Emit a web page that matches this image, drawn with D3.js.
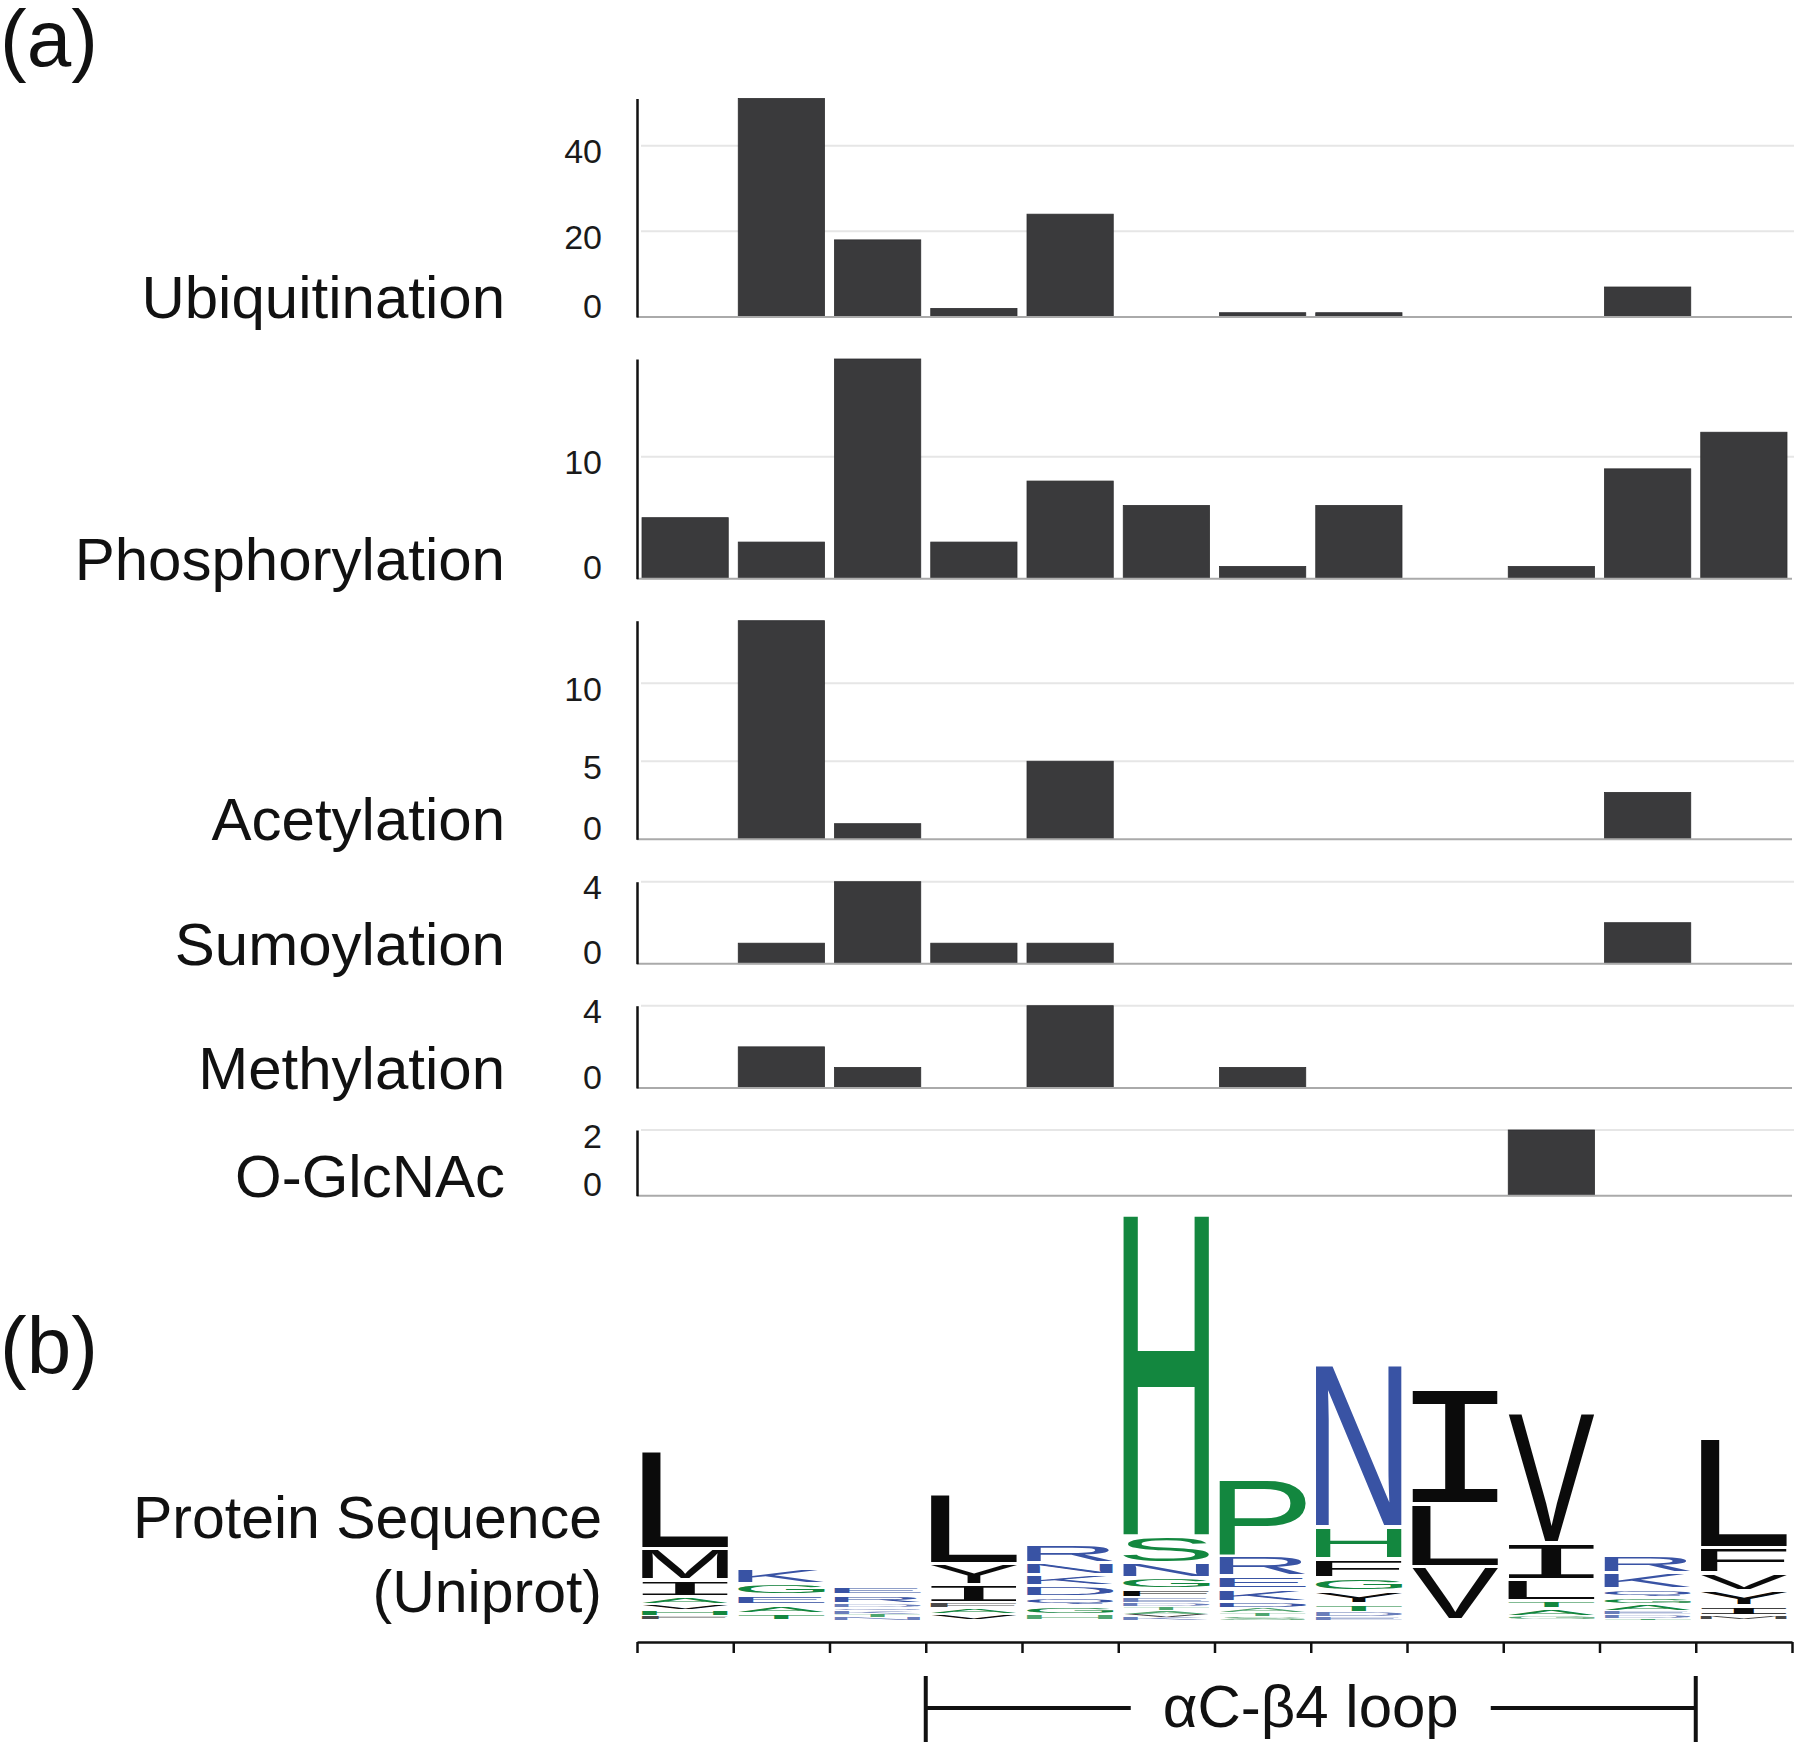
<!DOCTYPE html>
<html>
<head>
<meta charset="utf-8">
<script src="https://cdn.jsdelivr.net/npm/d3@7"></script>
<style>
  html, body { margin: 0; padding: 0; background: #ffffff; }
  svg { display: block; }
</style>
</head>
<body>
<svg id="chart" width="1800" height="1748"></svg>
<script>
// ---------------- DATA ----------------
const positions = [1, 2, 3, 4, 5, 6, 7, 8, 9, 10, 11, 12];

const ptmNames = ["Ubiquitination", "Phosphorylation", "Acetylation", "Sumoylation", "Methylation", "O-GlcNAc"];
const ubiquitination  = [0, 51, 18, 2, 24, 0, 1, 1, 0, 0, 7, 0];
const phosphorylation = [5, 3, 18, 3, 8, 6, 1, 6, 0, 1, 9, 12];
const acetylation     = [0, 14, 1, 0, 5, 0, 0, 0, 0, 0, 3, 0];
const sumoylation     = [0, 1, 4, 1, 1, 0, 0, 0, 0, 0, 2, 0];
const methylation     = [0, 2, 1, 0, 4, 0, 1, 0, 0, 0, 0, 0];
const oGlcNAc         = [0, 0, 0, 0, 0, 0, 0, 0, 0, 2, 0, 0];

const ptmMax   = [51, 18, 14, 4, 4, 2];
const ptmTicks = [[0, 20, 40], [0, 10], [0, 5, 10], [0, 4], [0, 4], [0, 2]];

// Sequence logo: per position, letters from top of stack to bottom, with heights (bits)
const logoColumns = [
  [["L", .98], ["M", .31], ["I", .17], ["A", .07], ["V", .06], ["H", .06], ["F", .04]],
  [["K", .15], ["G", .11], ["E", .10], ["A", .09], ["T", .06]],
  [["E", .09], ["R", .09], ["D", .04], ["Q", .03], ["K", .03], ["T", .03], ["N", .03]],
  [["L", .70], ["Y", .21], ["I", .18], ["F", .05], ["A", .06], ["V", .06]],
  [["R", .19], ["N", .12], ["K", .11], ["D", .11], ["Q", .09], ["G", .09], ["H", .05]],
  [["H", 3.22], ["S", .27], ["N", .15], ["G", .11], ["F", .09], ["E", .05], ["D", .04], ["T", .04], ["A", .03], ["V", .03], ["K", .03]],
  [["P", .76], ["R", .20], ["E", .13], ["K", .13], ["D", .06], ["A", .05], ["T", .04], ["S", .03]],
  [["N", 1.62], ["H", .32], ["F", .19], ["G", .13], ["Y", .13], ["T", .08], ["D", .05], ["E", .03]],
  [["I", 1.16], ["L", .63], ["V", .53]],
  [["V", 1.31], ["I", .37], ["L", .21], ["T", .07], ["A", .08], ["G", .04]],
  [["R", .18], ["K", .16], ["Q", .09], ["G", .06], ["A", .07], ["E", .04], ["D", .03], ["T", .02]],
  [["L", 1.10], ["F", .25], ["V", .18], ["Y", .15], ["I", .10], ["M", .04]]
];
const logoMaxBits = 4.2;

// residue colour groups (hydrophobicity scheme)
const residueGroups = ["hydrophilic", "neutral", "hydrophobic"];
const groupMembers  = ["RKDENQ", "SGHTAP", "YVMCLFIW"];

const loopLabel = "\u03b1C-\u03b24 loop";
const loopFirstIndex = 3;   // first position index in loop
const loopLastIndex = 10;   // last position index in loop

// ---------------- LAYOUT / STYLE ----------------
const FONT = '"Liberation Sans", Arial, Helvetica, sans-serif';
const MONO = '"Liberation Mono", "DejaVu Sans Mono", monospace';
const plotLeft = 637, plotRight = 1792;
const panelLayout = [
  { top: 98.5,   base: 317 },
  { top: 359,    base: 578.7 },
  { top: 620.7,  base: 839.3 },
  { top: 881.7,  base: 963.7 },
  { top: 1005.7, base: 1088 },
  { top: 1130,   base: 1195.7 }
];

const svg = d3.select("#chart");

const x = d3.scaleBand()
  .domain(positions)
  .range([plotLeft, plotRight])
  .paddingInner(0.104)
  .paddingOuter(0.052);

const ptmSeries = [ubiquitination, phosphorylation, acetylation, sumoylation, methylation, oGlcNAc];

// panel letters
svg.append("text").attr("x", 0).attr("y", 66).attr("font-size", 80)
  .attr("font-family", FONT).attr("fill", "#111").text("(a)");
svg.append("text").attr("x", 0).attr("y", 1373).attr("font-size", 80)
  .attr("font-family", FONT).attr("fill", "#111").text("(b)");

// ---------------- BAR PANELS ----------------
ptmNames.forEach((name, i) => {
  const { top, base } = panelLayout[i];
  const y = d3.scaleLinear().domain([0, ptmMax[i]]).range([base, top]);
  const g = svg.append("g");

  g.selectAll("line.grid")
    .data(ptmTicks[i].filter(t => t > 0))
    .join("line")
    .attr("class", "grid")
    .attr("x1", plotLeft + 4).attr("x2", plotRight + 2)
    .attr("y1", d => y(d)).attr("y2", d => y(d))
    .attr("stroke", "#e6e6e6").attr("stroke-width", 2);

  g.selectAll("rect")
    .data(positions.map((p, j) => ({ p, v: ptmSeries[i][j] })).filter(d => d.v > 0))
    .join("rect")
    .attr("x", d => x(d.p))
    .attr("width", x.bandwidth())
    .attr("y", d => y(d.v))
    .attr("height", d => y(0) - y(d.v))
    .attr("fill", "#3a3a3c")
    .attr("stroke", "#2e2e30").attr("stroke-width", 0.8);

  g.append("line")
    .attr("x1", plotLeft).attr("x2", plotRight)
    .attr("y1", y(0)).attr("y2", y(0))
    .attr("stroke", "#aaaaaa").attr("stroke-width", 2);

  const ax = g.append("g")
    .attr("transform", `translate(${plotLeft},0)`)
    .call(d3.axisLeft(y).tickValues(ptmTicks[i]).tickSize(0).tickSizeOuter(0)
      .tickPadding(35).tickFormat(d3.format("d")));
  ax.select(".domain").attr("stroke", "#111").attr("stroke-width", 2.5);
  ax.selectAll(".tick text")
    .attr("dy", null)
    .attr("y", d => d === 0 ? 0 : 17)
    .attr("font-size", 34)
    .attr("font-family", FONT)
    .attr("fill", "#1a1a1a");

  g.append("text")
    .attr("x", 505).attr("y", base + 1)
    .attr("text-anchor", "end")
    .attr("font-size", 60)
    .attr("font-family", FONT)
    .attr("fill", "#111")
    .text(name);
});

// ---------------- SEQUENCE LOGO ----------------
const colorScale = d3.scaleOrdinal().domain(residueGroups).range(["#3953a4", "#13873f", "#0b0b0b"]);
function residueColor(letter) {
  const gi = groupMembers.findIndex(s => s.includes(letter));
  return colorScale(residueGroups[gi]);
}

const yLogo = d3.scaleLinear().domain([0, logoMaxBits]).range([1620, 1200]);

const canvas = document.createElement("canvas");
const ctx = canvas.getContext("2d");
const REF = 200;
const inkCache = {};
function ink(letter, fam) {
  const key = letter + fam;
  if (inkCache[key]) return inkCache[key];
  ctx.font = `${REF}px ${fam}`;
  const m = ctx.measureText(letter);
  const r = { l: m.actualBoundingBoxLeft, r: m.actualBoundingBoxRight,
              a: m.actualBoundingBoxAscent, d: m.actualBoundingBoxDescent };
  inkCache[key] = r;
  return r;
}

const logoG = svg.append("g");
logoColumns.forEach((col, c) => {
  const bx = x(positions[c]);
  const bw = x.bandwidth();
  let cum = 0;
  col.slice().reverse().forEach(([letter, h]) => {
    const yb = yLogo(cum), yt = yLogo(cum + h);
    cum += h;
    const sh = yb - yt;
    const pad = sh > 8 ? 1.8 : sh * 0.15;
    const fam = letter === "I" ? MONO : FONT;
    const m = ink(letter, fam);
    const sx = bw / (m.l + m.r);
    const sy = (sh - 2 * pad) / (m.a + m.d);
    const tx = bx + sx * m.l;
    const ty = yt + pad + sy * m.a;
    logoG.append("text")
      .attr("transform", `translate(${tx},${ty}) scale(${sx},${sy})`)
      .attr("font-size", REF)
      .attr("font-family", fam)
      .attr("fill", residueColor(letter))
      .attr("fill-opacity", sh < 6 ? 0.75 : 1)
      .text(letter);
  });
});

// logo x axis with ticks at position boundaries
const xEdge = d3.scaleLinear().domain([0, positions.length]).range([plotLeft, plotRight]);
const axB = svg.append("g")
  .attr("transform", "translate(0,1642)")
  .call(d3.axisBottom(xEdge).tickValues(d3.range(positions.length + 1))
    .tickSize(11).tickSizeOuter(0).tickFormat(""));
axB.selectAll("line, path").attr("stroke", "#111").attr("stroke-width", 2.5);

svg.append("text")
  .attr("x", 602).attr("y", 1538).attr("text-anchor", "end")
  .attr("font-size", 59).attr("font-family", FONT).attr("fill", "#111")
  .text("Protein Sequence");
svg.append("text")
  .attr("x", 602).attr("y", 1612).attr("text-anchor", "end")
  .attr("font-size", 59).attr("font-family", FONT).attr("fill", "#111")
  .text("(Uniprot)");

// loop bracket
const xa = xEdge(loopFirstIndex), xb = xEdge(loopLastIndex + 1);
const by = 1708;
const brG = svg.append("g").attr("stroke", "#111").attr("stroke-width", 4);
const lbl = svg.append("text")
  .attr("x", (xa + xb) / 2).attr("y", 1727)
  .attr("text-anchor", "middle")
  .attr("font-size", 60).attr("font-family", FONT).attr("fill", "#111")
  .text(loopLabel);
const bb = lbl.node().getBBox();
brG.append("line").attr("x1", xa).attr("x2", xa).attr("y1", 1676).attr("y2", 1742);
brG.append("line").attr("x1", xb).attr("x2", xb).attr("y1", 1676).attr("y2", 1742);
brG.append("line").attr("x1", xa).attr("x2", bb.x - 32).attr("y1", by).attr("y2", by);
brG.append("line").attr("x1", bb.x + bb.width + 32).attr("x2", xb).attr("y1", by).attr("y2", by);
</script>
</body>
</html>
